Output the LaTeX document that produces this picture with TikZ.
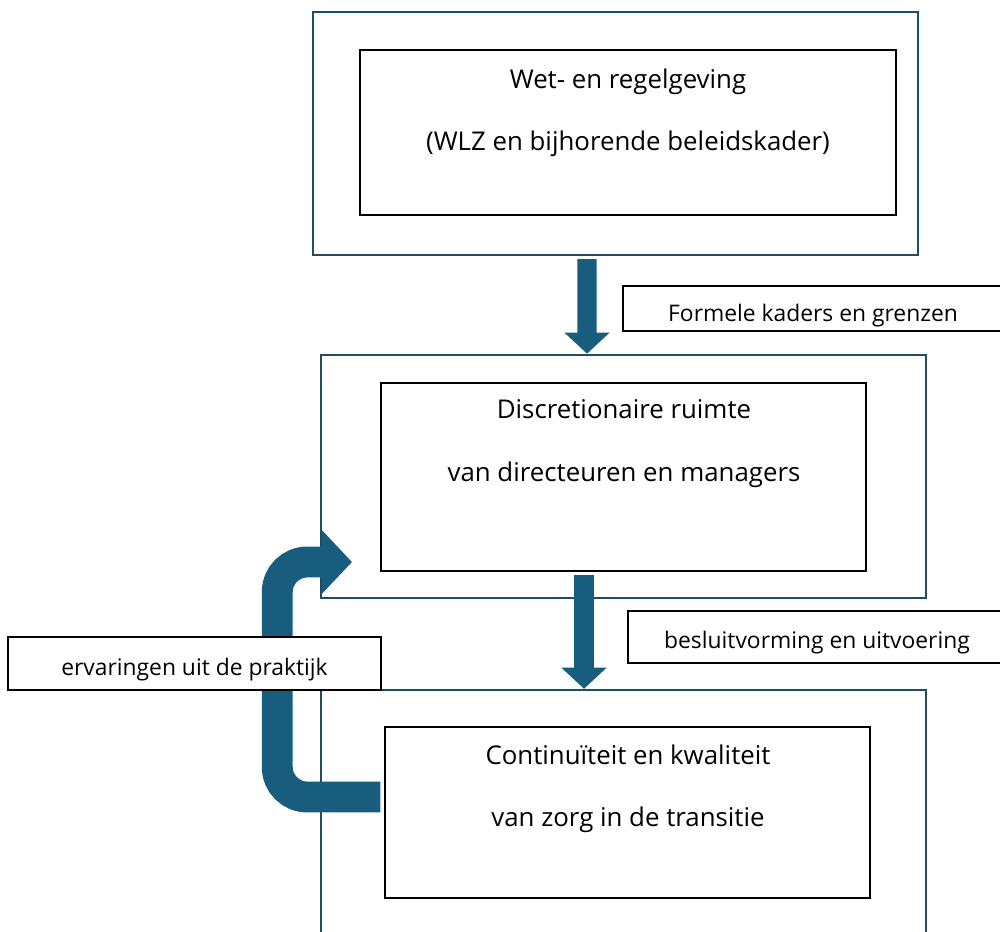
\documentclass[tikz,border=0pt]{standalone}
\usepackage{fontspec}
\setmainfont{Open Sans}
\usetikzlibrary{arrows.meta}

\definecolor{frame}{RGB}{31,78,99}
\definecolor{flowblue}{RGB}{25,93,126}

\begin{document}
\begin{tikzpicture}[x=0.02cm,y=-0.02cm,
    outer/.style={draw=frame,line width=1.4pt,minimum width=12.1cm,minimum height=4.86cm},
    inner/.style={draw,line width=0.9pt},
    tag/.style={draw,line width=0.9pt,fill=white,text height=13.5pt,text depth=0pt,
      font=\fontsize{13}{15}\selectfont},
    txt/.style={align=center,font=\fontsize{14.7}{17.5}\selectfont},
    flow/.style={draw=flowblue,line width=11pt,-{Triangle[width=25pt,length=12pt]}}]
      \clip (0,0) rectangle (1000,932);

      % the three levels
      \node[outer] (wet) at (615.5,133.5) {};
      \node[outer] (ruimte) [below of=wet,node distance=6.86cm,xshift=0.16cm] {};
      \node[outer,minimum height=5.4cm] (zorg) at (623.5,825) {};

      \node[inner,minimum width=10.72cm,minimum height=3.3cm] (wetbox) at (628,132.5) {};
      \node[inner,minimum width=9.7cm,minimum height=3.76cm] (ruimtebox) at (623.5,477) {};
      \node[inner,minimum width=9.7cm,minimum height=3.42cm] (zorgbox) at (627.5,812.5) {};

      \node[txt] (wettxt) at (628,112.5) {Wet- en regelgeving\\[18pt](WLZ en bijhorende beleidskader)};
      \node[txt] (ruimtetxt) at (624,443.5) {Discretionaire ruimte\\[18pt]van directeuren en managers};
      \node[txt] (zorgtxt) at (628,789) {Continuïteit en kwaliteit\\[18pt]van zorg in de transitie};

      \coordinate (terug) at (352,562);

      \draw[flow] ([xshift=-0.57cm,yshift=-0.06cm]wet.south) -- ([xshift=-0.73cm]ruimte.north);
      \draw[flow] ([xshift=-0.79cm,yshift=-0.06cm]ruimtebox.south) -- ([xshift=-0.79cm]zorg.north);
      \draw[flow,line width=17.6pt,rounded corners=0.6cm,-{Triangle[width=35pt,length=17pt]}]
        ([xshift=-0.08cm,yshift=0.31cm]zorgbox.west) -- ++(-103,0) |- (terug);

      \node[tag,text height=15pt,minimum width=7.6cm,minimum height=0.9cm] (kaders) at (813,308.5) {Formele kaders en grenzen};
      \node[tag,minimum width=7.56cm,minimum height=1.04cm] (besluit) at (817,637) {besluitvorming en uitvoering};
      \node[tag,minimum width=7.46cm,minimum height=1.06cm] (praktijk) at (194.5,663.5) {ervaringen uit de praktijk};
    \end{tikzpicture}
\end{document}
